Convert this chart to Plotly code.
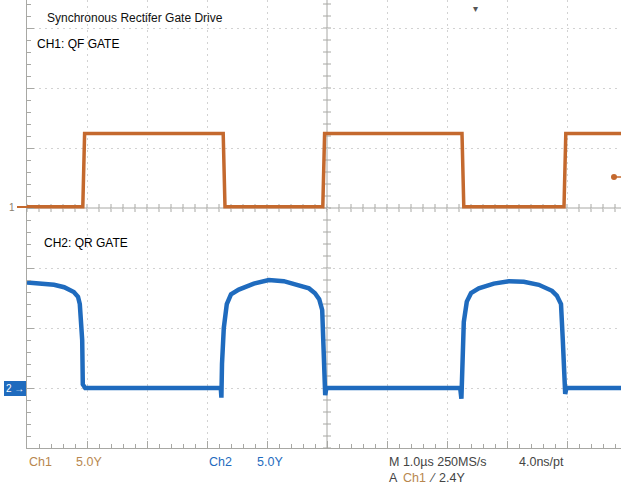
import plotly.graph_objects as go

# ---------------- data ----------------
# CH1: QF GATE  (time in µs, voltage in V, 5 V/div)
ch1_t = [-5.0, -4.07, -4.04, -1.73, -1.70, -0.07, -0.04, 2.25, 2.28, 3.95, 3.98, 4.9]
ch1_v = [0.1, 0.1, 6.2, 6.2, 0.1, 0.1, 6.2, 6.2, 0.1, 0.1, 6.2, 6.2]

# CH2: QR GATE  (time in µs, voltage in V, 5 V/div)
ch2_t = [-5.0, -4.8, -4.55, -4.38, -4.22, -4.15, -4.12, -4.08, -4.07, -4.03,
         -1.77, -1.76, -1.75, -1.72, -1.67, -1.60, -1.47, -1.22, -0.97, -0.72,
         -0.47, -0.30, -0.20, -0.13, -0.08, -0.05, -0.03, -0.01,
         2.22, 2.24, 2.25, 2.28, 2.33, 2.40, 2.53, 2.78, 3.03, 3.28, 3.53,
         3.75, 3.83, 3.90, 3.93, 3.97, 3.99, 4.9]
ch2_v = [8.8, 8.75, 8.6, 8.4, 8.0, 7.6, 7.0, 4.0, 0.3, 0.0,
         0.0, -0.8, 2.0, 5.0, 7.0, 7.8, 8.2, 8.7, 9.0, 8.9,
         8.6, 8.3, 7.9, 7.4, 6.5, 3.0, -0.6, 0.0,
         0.0, -0.9, 2.0, 5.5, 7.2, 7.9, 8.3, 8.7, 8.9, 8.85, 8.6,
         8.1, 7.7, 7.0, 4.0, -0.5, 0.0, 0.0]

title_text = "Synchronous Rectifer Gate Drive"
ch1_label = "CH1: QF GATE"
ch2_label = "CH2: QR GATE"

# ---------------- style ----------------
W, H = 621, 487
L, B = 27, 39
PW = W - L          # plot width px
PH = H - B          # plot height px
DIV = 60.0          # px per division
ORANGE = "#C4692E"
BLUE = "#1F6BBE"
TAN = "#B8874F"
AXC = "#a8a8a4"
GRIDC = "#d2d2d2"

x_range = [-5.0, -5.0 + PW / DIV]
top_div = PH / DIV - 4.0
y1_range = [-4 * 5.0, top_div * 5.0]          # ch1 ground at centre
y2_range = [(-4 + 3) * 5.0, (top_div + 3) * 5.0]  # ch2 ground 3 div below centre


def px(x):
    return (x - L) / PW


def py(y):
    return (PH - y) / PH


fig = go.Figure()
fig.add_trace(go.Scatter(x=ch1_t, y=ch1_v, mode="lines", yaxis="y",
                         line=dict(color=ORANGE, width=3.5), hoverinfo="skip"))
fig.add_trace(go.Scatter(x=ch2_t, y=ch2_v, mode="lines", yaxis="y2",
                         line=dict(color=BLUE, width=4.5), hoverinfo="skip"))

shapes = []
# centre cross-hair with small ticks
shapes.append(dict(type="line", xref="x", yref="paper", x0=0, x1=0, y0=0, y1=1,
                   line=dict(color=AXC, width=1), layer="below"))
shapes.append(dict(type="line", xref="paper", yref="paper", x0=0, x1=1,
                   y0=py(208), y1=py(208), line=dict(color=AXC, width=1), layer="below"))
k = 0
while -5 + k * 0.2 <= x_range[1]:
    xv = -5 + k * 0.2
    shapes.append(dict(type="line", xref="x", yref="paper", x0=xv, x1=xv,
                       y0=py(212), y1=py(204), line=dict(color=AXC, width=1), layer="below"))
    k += 1
k = 0
while -4 + k * 0.2 <= top_div:
    yv = 448 - k * 0.2 * DIV
    shapes.append(dict(type="line", xref="paper", yref="paper", x0=px(323), x1=px(331),
                       y0=py(yv), y1=py(yv), line=dict(color=AXC, width=1), layer="below"))
    k += 1

# ch1 ground marker line
shapes.append(dict(type="line", xref="paper", yref="paper", x0=px(17), x1=px(28),
                   y0=py(207), y1=py(207), line=dict(color=ORANGE, width=2)))
# ch2 ground marker box
shapes.append(dict(type="rect", xref="paper", yref="paper", x0=px(4), x1=px(26),
                   y0=py(396), y1=py(381), fillcolor=BLUE, line=dict(width=0)))
# trigger level marker (right)
shapes.append(dict(type="circle", xref="paper", yref="paper", x0=px(611), x1=px(617),
                   y0=py(180), y1=py(174), fillcolor=ORANGE, line=dict(width=0)))
shapes.append(dict(type="line", xref="paper", yref="paper", x0=px(614), x1=px(622),
                   y0=py(177), y1=py(177), line=dict(color=ORANGE, width=1.5)))

FONT = "Liberation Sans, Arial, sans-serif"
ann = []


def text(x, y, s, size=12.5, color="#222", anchor="left"):
    ann.append(dict(x=px(x), y=py(y), xref="paper", yref="paper", text=s,
                    showarrow=False, xanchor=anchor, yanchor="middle",
                    font=dict(family=FONT, size=size, color=color)))


text(45, 18, title_text, size=12, color="#111")
text(35, 44, ch1_label, size=12, color="#000")
text(42, 243, ch2_label, size=12, color="#000")
text(12, 207, "1", size=10, color="#8a8070", anchor="center")
text(15, 388, "2 →", size=10, color="#ffffff", anchor="center")
text(475, 8, "▾", size=10, color="#555", anchor="center")

text(27, 462, "Ch1", color=TAN)
text(74, 462, "5.0Y", color=TAN)
text(207, 462, "Ch2", color=BLUE)
text(255, 462, "5.0Y", color=BLUE)
text(387, 462, "M 1.0µs 250MS/s", color="#444")
text(517, 462, "4.0ns/pt", color="#444")
text(387, 478, "A", color="#444")
text(401, 478, "Ch1", color=TAN)
text(427, 478, "⁄", color="#444")
text(437, 478, "2.4Y", color="#444")

axis_common = dict(showticklabels=False, zeroline=False, showline=True,
                   linecolor=AXC, linewidth=1, ticks="inside", ticklen=7,
                   tickcolor=AXC, showgrid=True, gridcolor=GRIDC, gridwidth=1,
                   griddash="2px,4px", fixedrange=True)

fig.update_layout(
    width=W, height=H,
    margin=dict(l=L, r=0, t=0, b=B),
    paper_bgcolor="white", plot_bgcolor="white",
    showlegend=False,
    xaxis=dict(range=x_range, tick0=-5, dtick=1,
               minor=dict(ticks="inside", ticklen=4, dtick=0.2, tickcolor=AXC, showgrid=False),
               **axis_common),
    yaxis=dict(range=y1_range, tick0=0, dtick=5,
               minor=dict(ticks="inside", ticklen=4, dtick=1, tickcolor=AXC, showgrid=False),
               **axis_common),
    yaxis2=dict(range=y2_range, overlaying="y", visible=False, fixedrange=True),
    shapes=shapes,
    annotations=ann,
)

fig.write_html("out.html", config={"displayModeBar": False},
               post_script="document.body.style.margin='0';document.body.style.overflow='hidden';")
